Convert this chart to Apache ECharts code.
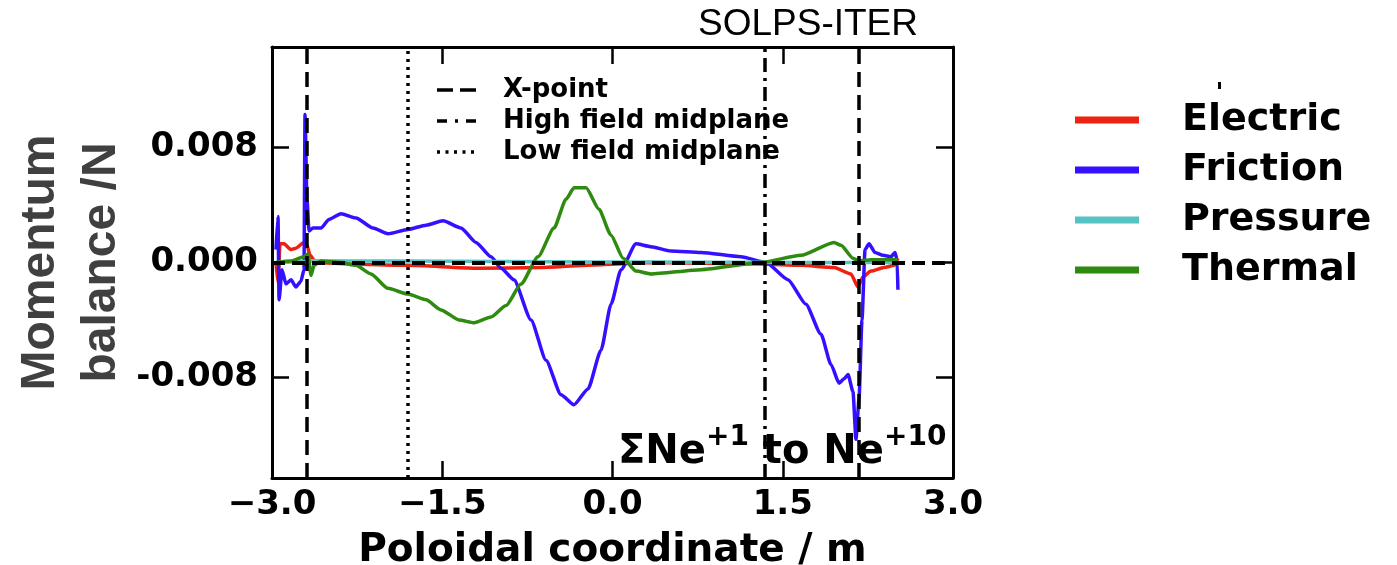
<!DOCTYPE html>
<html>
<head>
<meta charset="utf-8">
<script src="https://cdn.jsdelivr.net/npm/echarts@6/dist/echarts.min.js"></script>
<style>
  html, body { margin: 0; padding: 0; background: #fff; }
  #chart { width: 1397px; height: 565px; }
</style>
</head>
<body>
<div id="chart"></div>
<script>
// ---- Data (x: poloidal coordinate / m, y: momentum balance / N) ----
const seriesNames = ['Electric', 'Friction', 'Pressure', 'Thermal'];

const electricPoints = [
  [-2.965, 0], [-2.947, -0.0014], [-2.930, 0.0013], [-2.894, 0.0013], [-2.833, 0.0009],
  [-2.789, 0.0010], [-2.718, 0.0014], [-2.692, 0.0012], [-2.665, 0.0005], [-2.612, 0],
  [-2.304, -0.0001], [-1.802, -0.0002], [-1.203, -0.0004], [-0.630, -0.00035], [-0.101, -0.00015],
  [0.339, 0], [1.308, -0.0001], [1.661, -0.0002], [1.952, -0.00035], [2.101, -0.0008],
  [2.163, -0.0017], [2.207, -0.0010], [2.278, -0.0006], [2.392, -0.00035], [2.480, -0.0002],
  [2.515, 0.0003]
];

const frictionPoints = [
  [-2.965, 0.0009], [-2.947, 0.0032], [-2.938, -0.0026], [-2.912, -0.0005], [-2.877, -0.0015],
  [-2.833, -0.0012], [-2.789, -0.0017], [-2.745, -0.0013], [-2.718, -0.0005], [-2.709, 0.0103],
  [-2.692, 0.0044], [-2.674, 0.0022], [-2.639, 0.0024], [-2.568, 0.0024], [-2.498, 0.0030],
  [-2.392, 0.0034], [-2.260, 0.0031], [-2.110, 0.0024], [-1.978, 0.0020], [-1.802, 0.0023],
  [-1.643, 0.0026], [-1.493, 0.0029], [-1.335, 0.0024], [-1.203, 0.0014], [-1.070, 0.0004],
  [-0.982, -0.0004], [-0.868, -0.0012], [-0.718, -0.0040], [-0.586, -0.0068], [-0.454, -0.0092],
  [-0.339, -0.0099], [-0.216, -0.0088], [-0.101, -0.0061], [-0.013, -0.0029], [0.075, -0.0005],
  [0.207, 0.0013], [0.339, 0.0011], [0.515, 0.0008], [0.780, 0.0007], [1.132, 0.0004],
  [1.352, 0.0000], [1.546, -0.0012], [1.704, -0.0029], [1.837, -0.0050], [1.925, -0.0071],
  [1.996, -0.0084], [2.040, -0.0081], [2.075, -0.0078], [2.119, -0.0090], [2.145, -0.0123],
  [2.172, -0.0095], [2.198, -0.0040], [2.225, 0.0009], [2.260, 0.0013], [2.313, 0.0007],
  [2.383, 0.0005], [2.454, 0.0004], [2.489, 0.0007], [2.507, 0.0002], [2.515, -0.0019]
];

const pressurePoints = [
  [-2.965, 0], [-2.745, 0.00005], [-2.656, 0.00012], [-1.86, 0.0001], [-0.98, 0.00007],
  [-0.10, 0.00004], [0.78, 0.00002], [1.66, 0], [2.515, 0]
];

const thermalPoints = [
  [-2.965, 0], [-2.833, 0.0001], [-2.718, 0.0004], [-2.683, 0.0006], [-2.656, -0.0009],
  [-2.630, -0.0002], [-2.568, 0.0001], [-2.392, 0], [-2.260, -0.0002], [-2.128, -0.0008],
  [-1.978, -0.0018], [-1.802, -0.0022], [-1.643, -0.0026], [-1.511, -0.0033], [-1.352, -0.0040],
  [-1.220, -0.0042], [-1.070, -0.0038], [-0.938, -0.0030], [-0.806, -0.0015], [-0.656, 0.0004],
  [-0.515, 0.0024], [-0.410, 0.0044], [-0.339, 0.0052], [-0.233, 0.0052], [-0.119, 0.0037],
  [-0.013, 0.0019], [0.093, 0.0003], [0.207, -0.0006], [0.339, -0.0008], [0.780, -0.0005],
  [1.308, 0], [1.661, 0.0005], [1.952, 0.0014], [2.013, 0.0012], [2.119, 0.0003],
  [2.172, 0.0001], [2.278, 0.0002], [2.515, 0.0002]
];

// reference line positions
const xPointPositions = [-2.686, 2.169];
const highFieldMidplane = [1.344];
const lowFieldMidplane = [-1.804];
const zeroLevel = [0];

// axes
const xTickValues = [-3, -1.5, 0, 1.5, 3];
const yTickValues = [-0.008, 0, 0.008];
const xRange = [-3, 3];
const yRange = [-0.015, 0.015];

// ---- Styles ----
const colors = ['#ee2211', '#3311ff', '#55c3c3', '#2f8a10'];
const FONT = 'DejaVu Sans';

const chart = echarts.init(document.getElementById('chart'), null, { renderer: 'canvas' });

const tickStyle = { show: true, inside: true, length: 17, lineStyle: { color: '#000', width: 2.5 } };
const axisLineStyle = { show: true, onZero: false, lineStyle: { color: '#000', width: 3 } };

const xLabelFmt = v => (v < 0 ? '\u2212' : '') + Math.abs(v).toFixed(1);
const yLabelFmt = v => (Math.abs(v) < 1e-12 ? '0.000' : (v < 0 ? '-' : '') + Math.abs(v).toFixed(3));

function dataSeries(name, points, idx) {
  return {
    name: name,
    type: 'line',
    data: points,
    showSymbol: false,
    symbol: 'none',
    smooth: 0.2,
    smoothMonotone: 'x',
    color: colors[idx],
    lineStyle: { color: colors[idx], width: 3.5 },
    itemStyle: { color: colors[idx] },
    z: 2,
    silent: true,
    animation: false
  };
}

function refSeries(name, positions, axisKey, dash, width) {
  return {
    name: name,
    type: 'line',
    data: [],
    silent: true,
    animation: false,
    markLine: {
      silent: true,
      symbol: ['none', 'none'],
      label: { show: false },
      animation: false,
      lineStyle: { color: '#000', width: width, type: dash },
      emphasis: { disabled: true },
      data: positions.map(v => ({ [axisKey]: v }))
    }
  };
}

const option = {
  animation: false,
  backgroundColor: '#fff',
  title: {
    text: 'SOLPS-ITER',
    left: 698,
    top: 6,
    padding: 0,
    textStyle: { fontFamily: 'Liberation Sans', fontWeight: 'normal', fontSize: 37, color: '#000' }
  },
  grid: { left: 272, top: 47, width: 681, height: 431, containLabel: false, outerBoundsMode: 'none' },
  legend: {
    data: seriesNames,
    orient: 'vertical',
    left: 1075,
    top: 96,
    padding: 0,
    icon: 'rect',
    itemWidth: 64,
    itemHeight: 7,
    itemGap: 2,
    selectedMode: false,
    textStyle: {
      fontFamily: FONT, fontWeight: 'bold', fontSize: 38, color: '#000',
      lineHeight: 40, padding: [0, 0, 8, 38]
    }
  },
  xAxis: [
    {
      type: 'value', position: 'bottom', min: xRange[0], max: xRange[1], interval: 1.5,
      axisLine: axisLineStyle, axisTick: tickStyle, splitLine: { show: false },
      axisLabel: { fontFamily: FONT, fontWeight: 'bold', fontSize: 34, color: '#000', margin: 10, formatter: xLabelFmt, showMinLabel: true, showMaxLabel: true },
      name: 'Poloidal coordinate / m', nameLocation: 'middle', nameGap: 53,
      nameTextStyle: { fontFamily: FONT, fontWeight: 'bold', fontSize: 39, color: '#000' }
    },
    {
      type: 'value', position: 'top', min: xRange[0], max: xRange[1], interval: 1.5,
      axisLine: axisLineStyle, axisTick: tickStyle, splitLine: { show: false },
      axisLabel: { show: false }
    }
  ],
  yAxis: [
    {
      type: 'value', position: 'left', min: yRange[0], max: yRange[1],
      axisLine: axisLineStyle,
      axisTick: Object.assign({}, tickStyle, { customValues: yTickValues }),
      splitLine: { show: false },
      axisLabel: { customValues: yTickValues, fontFamily: FONT, fontWeight: 'bold', fontSize: 34, color: '#000', margin: 14, formatter: yLabelFmt },
      name: 'Momentum\nbalance /N', nameLocation: 'middle', nameRotate: 90, nameGap: 140,
      nameTextStyle: { fontFamily: 'Liberation Sans', fontWeight: 'bold', fontSize: 48, color: '#404040', lineHeight: 61 }
    },
    {
      type: 'value', position: 'right', min: yRange[0], max: yRange[1],
      axisLine: axisLineStyle,
      axisTick: Object.assign({}, tickStyle, { customValues: yTickValues }),
      splitLine: { show: false },
      axisLabel: { show: false }
    }
  ],
  graphic: [
    // inner legend for reference lines
    { type: 'line', shape: { x1: 437, y1: 90, x2: 476, y2: 90 }, style: { stroke: '#000', lineWidth: 3.5, lineDash: [16, 7] }, silent: true, z: 10 },
    { type: 'line', shape: { x1: 437, y1: 121, x2: 476, y2: 121 }, style: { stroke: '#000', lineWidth: 3.5, lineDash: [10, 8, 3, 8] }, silent: true, z: 10 },
    { type: 'line', shape: { x1: 437, y1: 152, x2: 476, y2: 152 }, style: { stroke: '#000', lineWidth: 3.5, lineDash: [3, 5.5] }, silent: true, z: 10 },
    { type: 'text', x: 503, y: 90, style: { text: 'X-point', fontFamily: FONT, fontWeight: 'bold', fontSize: 26, fill: '#000', align: 'left', verticalAlign: 'middle' }, silent: true, z: 10 },
    { type: 'text', x: 503, y: 121, style: { text: 'High field midplane', fontFamily: FONT, fontWeight: 'bold', fontSize: 26, fill: '#000', align: 'left', verticalAlign: 'middle' }, silent: true, z: 10 },
    { type: 'text', x: 503, y: 152, style: { text: 'Low field midplane', fontFamily: FONT, fontWeight: 'bold', fontSize: 26, fill: '#000', align: 'left', verticalAlign: 'middle' }, silent: true, z: 10 },
    // species annotation
    {
      type: 'text', x: 618, y: 429, silent: true, z: 10,
      style: {
        text: '{b|\u03A3Ne}{s|+1}{b| to Ne}{s|+10}',
        align: 'left', verticalAlign: 'top',
        rich: {
          b: { fontFamily: FONT, fontWeight: 'bold', fontSize: 40, lineHeight: 48, fill: '#000' },
          s: { fontFamily: FONT, fontWeight: 'bold', fontSize: 28, lineHeight: 18, height: 18, verticalAlign: 'top', fill: '#000' }
        }
      }
    },
    // small stray mark above the legend
    { type: 'rect', shape: { x: 1218, y: 82, width: 3, height: 7 }, style: { fill: '#000' }, silent: true }
  ],
  series: [
    dataSeries(seriesNames[0], electricPoints, 0),
    dataSeries(seriesNames[1], frictionPoints, 1),
    dataSeries(seriesNames[2], pressurePoints, 2),
    dataSeries(seriesNames[3], thermalPoints, 3),
    refSeries('zero', zeroLevel, 'yAxis', [13, 7], 4),
    refSeries('X-point', xPointPositions, 'xAxis', [15, 8], 3.5),
    refSeries('High field midplane', highFieldMidplane, 'xAxis', [14, 6, 3, 6], 3.5),
    refSeries('Low field midplane', lowFieldMidplane, 'xAxis', [3, 5], 3.5)
  ]
};

chart.setOption(option);
</script>
</body>
</html>
